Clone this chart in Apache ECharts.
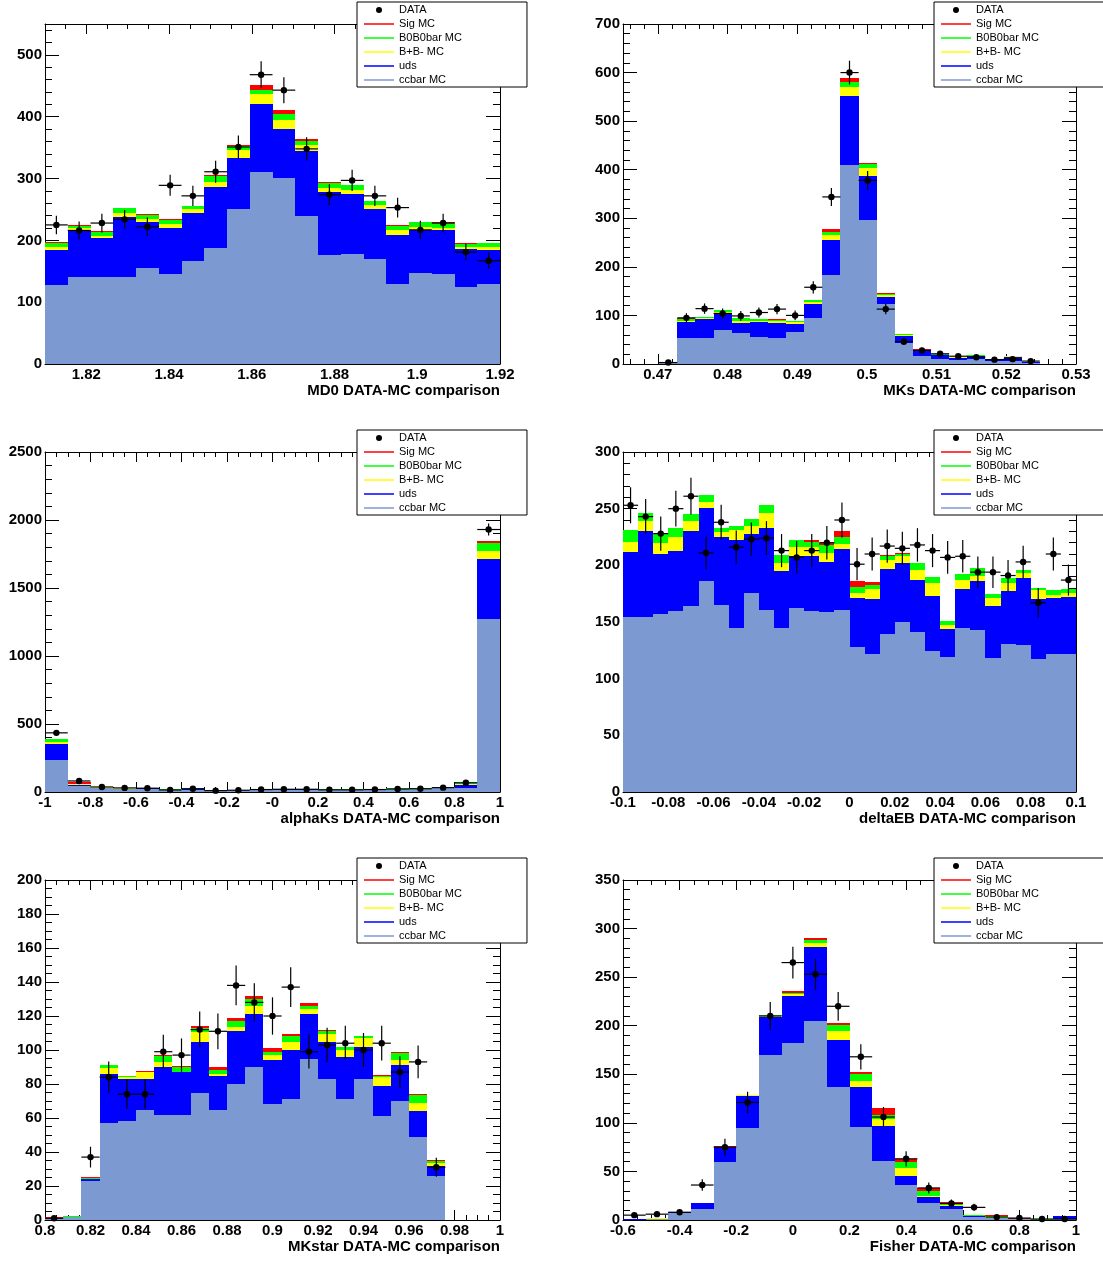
<!DOCTYPE html>
<html><head><meta charset="utf-8">
<script src="https://cdn.jsdelivr.net/npm/echarts@6/dist/echarts.min.js"></script>
<style>html,body{margin:0;padding:0;background:#fff}#c{width:1103px;height:1262px}</style>
</head><body><div id="c"></div><script>
// ---------------- DATA ----------------
// Stacked MC levels are the top of each band (cumulative), bottom to top:
// ccbar -> +uds -> +B+B- -> +B0B0bar -> +Sig

// MD0 : 20 bins on [1.81, 1.92]
const md0_range = [1.81, 1.92];
const md0_xLabels = ['1.82','1.84','1.86','1.88','1.9','1.92'];
const md0_yLabels = [0,100,200,300,400,500];
const md0_ccbar = [127,141,140,141,155,145,167,187,250,310,301,240,177,178,170,129,148,146,124,130];
const md0_uds   = [185,216,204,238,229,220,244,286,334,420,380,345,279,275,250,209,217,216,186,185];
const md0_bpbm  = [190,220,207,245,234,226,250,295,346,436,394,355,285,282,257,216,221,220,190,189];
const md0_b0b0  = [196,224,214,252,241,233,255,304,352,444,404,361,293,289,263,224,229,228,194,195];
const md0_sig   = [197,225,215,253,242,234,256,305,355,451,411,364,294,290,264,225,230,229,195,196];
const md0_data  = [225,216,228,234,222,289,272,311,351,468,443,348,274,297,272,253,217,228,181,167];
const md0_err   = [15.0,14.7,15.1,15.3,14.9,17.0,16.5,17.6,18.7,21.6,21.0,18.7,16.6,17.2,16.5,15.9,14.7,15.1,13.5,12.9];

// MKs : 25 bins on [0.465, 0.53]
const mks_range = [0.465, 0.53];
const mks_xLabels = ['0.47','0.48','0.49','0.5','0.51','0.52','0.53'];
const mks_yLabels = [0,100,200,300,400,500,600,700];
const mks_ccbar = [0,0,3,54,53,70,63,56,54,65,94,183,409,297,123,43,17,10,8,10,6,7,3,1,0];
const mks_uds   = [0,0,4,87,92,105,85,86,84,83,124,256,551,387,137,58,27,19,12,16,10,15,4,1,0];
const mks_bpbm  = [0,0,4,89,94,108,89,89,88,86,127,265,571,404,142,59,28,19.5,14,17,10.5,15.5,4.5,1,0];
const mks_b0b0  = [0,0,5,93,96,112,94,93,91,89,131,271,581,411,144,61,29,21,15,18,11,16,5,1,0];
const mks_sig   = [0,0,5,94,96,112,94,93,92,89,131,277,588,414,146,62,30,21,15,18,11,16,5,1,0];
const mks_data  = [null,null,3,95,114,104,99,106,113,100,158,344,600,378,113,46,28,21,16,14,9,10,6,null,null];
const mks_err   = [null,null,1.7,9.7,10.7,10.2,9.9,10.3,10.6,10.0,12.6,18.5,24.5,19.4,10.6,6.8,5.3,4.6,4.0,3.7,3.0,3.2,2.4,null,null];

// alphaKs : 20 bins on [-1, 1]
const ak_range = [-1, 1];
const ak_xLabels = ['-1','-0.8','-0.6','-0.4','-0.2','-0','0.2','0.4','0.6','0.8','1'];
const ak_yLabels = [0,500,1000,1500,2000,2500];
const ak_ccbar = [233,45,28,20,22,14,18,9,12,15,18,18,15,15,18,20,20,26,30,1270];
const ak_uds   = [355,52,33,25,27,17,22,10,13,17,21,21,17,17,21,23,23,30,54,1711];
const ak_bpbm  = [368,56,35,26,29,18,24,11,14,18,23,23,18,18,23,25,25,33,60,1775];
const ak_b0b0  = [387,62,37,28,31,19,26,12,15,19,24,24,19,19,24,27,27,36,66,1828];
const ak_sig   = [392,70,39,29,32,20,27,12,15,20,25,25,20,20,25,28,28,37,68,1846];
const ak_data  = [435,81,37,30,28,15,24,10,13,18,20,20,16,16,18,22,24,32,68,1930];
const ak_err   = [20.9,9.0,6.1,5.5,5.3,3.9,4.9,3.2,3.6,4.2,4.5,4.5,4.0,4.0,4.2,4.7,4.9,5.7,8.2,43.9];

// deltaEB : 30 bins on [-0.1, 0.1]
const deb_range = [-0.1, 0.1];
const deb_xLabels = ['-0.1','-0.08','-0.06','-0.04','-0.02','0','0.02','0.04','0.06','0.08','0.1'];
const deb_yLabels = [0,50,100,150,200,250,300];
const deb_ccbar = [154,154,157,160,164,186,165,145,176,161,145,162,160,159,161,128,122,139,150,141,124,119,145,143,118,131,130,117,122,122];
const deb_uds   = [212,230,210,213,230,251,225,222,228,233,195,208,208,203,214,171,170,197,202,187,173,144,179,186,164,177,189,170,171,172];
const deb_bpbm  = [221,239,220,225,239,256,229,231,235,246,202,216,216,211,219,176,179,205,208,196,184,147,187,191,171,184,193,178,174,176];
const deb_b0b0  = [231,246,228,233,245,262,233,235,241,253,209,222,221,218,225,181,183,208,210,202,190,151,192,198,175,189,196,180,178,179];
const deb_sig   = [231,246,228,233,245,262,233,235,241,253,209,222,222,220,230,186,185,209,211,202,190,151,192,198,175,189,196,180,178,179];
const deb_data  = [253,243,228,250,261,211,238,216,223,224,213,207,213,220,240,201,210,217,215,218,213,207,208,194,194,191,203,167,210,187];
const deb_err   = [15.9,15.6,15.1,15.8,16.2,14.5,15.4,14.7,14.9,15.0,14.6,14.4,14.6,14.8,15.5,14.2,14.5,14.7,14.7,14.8,14.6,14.4,14.4,13.9,13.9,13.8,14.2,12.9,14.5,13.7];

// MKstar : 25 bins on [0.8, 1.0]
const mkst_range = [0.8, 1.0];
const mkst_xLabels = ['0.8','0.82','0.84','0.86','0.88','0.9','0.92','0.94','0.96','0.98','1'];
const mkst_yLabels = [0,20,40,60,80,100,120,140,160,180,200];
const mkst_ccbar = [1,1.5,23,57,58,65,62,62,75,65,80,90,68,71,95,83,71,83,61,70,49,26,0,0,0];
const mkst_uds   = [1.2,2,24,86,83,83,90,87,105,85,111,121,94,100,121,105,96,102,79,91,64,32,0,0,0];
const mkst_bpbm  = [1.3,2,24.4,89.5,84,87,93,87.3,110.5,86,113.5,125.7,97,105,124.3,109.3,100,107,84,94.4,68.8,33.4,0,0,0];
const mkst_b0b0  = [1.4,2.1,25,91,84.6,87.3,96.6,89.9,113,88.5,117,130,99,108,126,111,101.7,108,85,98.1,73.5,34.8,0,0,0];
const mkst_sig   = [1.5,2.2,25.2,91.3,85,87.5,97,90.7,114,90,118.8,132,101.3,109.7,127.4,111.7,102,108.4,85.5,98.7,73.9,35.2,0,0,0];
const mkst_data  = [1,null,37,84,74,74,99,97,112,111,138,128,120,137,99,103,104,100,104,87,93,31,null,null,null];
const mkst_err   = [1,null,6.1,9.2,8.6,8.6,9.9,9.8,10.6,10.5,11.7,11.3,11.0,11.7,9.9,10.1,10.2,10.0,10.2,9.3,9.6,5.6,null,null,null];

// Fisher : 20 bins on [-0.6, 1.0]
const fis_range = [-0.6, 1.0];
const fis_xLabels = ['-0.6','-0.4','-0.2','0','0.2','0.4','0.6','0.8','1'];
const fis_yLabels = [0,50,100,150,200,250,300,350];
const fis_ccbar = [0.5,1,7.5,11.7,60,95,170,182,205,137,96,61,36.5,17,11,3,1.7,0.8,0.3,1];
const fis_uds   = [0.8,1.5,8.5,17.2,75,128,208.5,230.6,280.8,184.8,137.3,97,45.4,24.1,14.5,4.1,2.4,1,0.4,3.8];
const fis_bpbm  = [0.9,1.6,8.6,17.3,75.3,128.3,209.6,232.6,285.6,195,143.5,104,53.3,24.8,15.8,4.4,3.4,1.2,0.5,3.9];
const fis_b0b0  = [1,1.7,8.7,17.4,75.5,128.5,210.6,234,288.4,200.3,150.4,108.4,60.2,30,16.9,4.8,4.1,1.4,0.6,4];
const fis_sig   = [1,1.7,8.7,17.5,75.7,128.7,211,235.4,290,203,152.8,115.6,63.3,32.7,18.9,5.5,5.5,1.7,0.7,4];
const fis_data  = [5,6,8,36,75,121,210,265,253,220,168,106,63,33,17,13,3,2,1,1];
const fis_err   = [2.2,2.4,2.8,6.0,8.7,11.0,14.5,16.3,15.9,14.8,13.0,10.3,7.9,5.7,4.1,3.6,1.7,1.4,1.0,1.0];

// ---------------- STYLE ----------------
const FONT = '"Liberation Sans", Arial, Helvetica, sans-serif';
const MC_NAMES  = ['Sig MC','B0B0bar MC','B+B- MC','uds','ccbar MC'];
const MC_COLORS = ['#ff0000','#00ff00','#ffff00','#0000ff','#7d99d1'];
const LINE_ICON = 'path://M0,0H30V1.5H0Z';

const panels = [
  {title:'MD0 DATA-MC comparison',    range:md0_range,  xLabels:md0_xLabels,  yLabels:md0_yLabels,  yMax:550,  xMinor:0.005, yMinor:20,
   levels:[md0_sig,md0_b0b0,md0_bpbm,md0_uds,md0_ccbar], data:md0_data, err:md0_err, box:[45,24,455,340], legend:[357,2]},
  {title:'MKs DATA-MC comparison',    range:mks_range,  xLabels:mks_xLabels,  yLabels:mks_yLabels,  yMax:700,  xMinor:0.002, yMinor:20,
   levels:[mks_sig,mks_b0b0,mks_bpbm,mks_uds,mks_ccbar], data:mks_data, err:mks_err, box:[623,24,453,340], legend:[934,2]},
  {title:'alphaKs DATA-MC comparison',range:ak_range,   xLabels:ak_xLabels,   yLabels:ak_yLabels,   yMax:2500, xMinor:0.05,  yMinor:100,
   levels:[ak_sig,ak_b0b0,ak_bpbm,ak_uds,ak_ccbar], data:ak_data, err:ak_err, box:[45,452,455,340], legend:[357,430]},
  {title:'deltaEB DATA-MC comparison',range:deb_range,  xLabels:deb_xLabels,  yLabels:deb_yLabels,  yMax:300,  xMinor:0.005, yMinor:10,
   levels:[deb_sig,deb_b0b0,deb_bpbm,deb_uds,deb_ccbar], data:deb_data, err:deb_err, box:[623,452,453,340], legend:[934,430]},
  {title:'MKstar DATA-MC comparison', range:mkst_range, xLabels:mkst_xLabels, yLabels:mkst_yLabels, yMax:200,  xMinor:0.005, yMinor:5,
   levels:[mkst_sig,mkst_b0b0,mkst_bpbm,mkst_uds,mkst_ccbar], data:mkst_data, err:mkst_err, box:[45,880,455,340], legend:[357,858]},
  {title:'Fisher DATA-MC comparison', range:fis_range,  xLabels:fis_xLabels,  yLabels:fis_yLabels,  yMax:350,  xMinor:0.05,  yMinor:10,
   levels:[fis_sig,fis_b0b0,fis_bpbm,fis_uds,fis_ccbar], data:fis_data, err:fis_err, box:[623,880,453,340], legend:[934,858]}
];

function minorValues(lo, hi, step) {
  const out = [];
  const k0 = Math.ceil(lo / step - 1e-6), k1 = Math.floor(hi / step + 1e-6);
  for (let k = k0; k <= k1; k++) out.push(+(k * step).toFixed(6));
  return out;
}

const tickLine = {color:'#000', width:1};
const labelStyle = {color:'#000', fontSize:15, fontWeight:'bold', fontFamily:FONT};

const grids = [], xAxes = [], yAxes = [], series = [], legends = [];

panels.forEach((p, g) => {
  grids.push({left:p.box[0], top:p.box[1], width:p.box[2], height:p.box[3], containLabel:false, outerBoundsMode:'none'});
  const xMaj = p.xLabels.map(s => parseFloat(s));
  const xMin = minorValues(p.range[0], p.range[1], p.xMinor);
  const yMaj = p.yLabels.slice();
  const yMin = minorValues(0, p.yMax, p.yMinor);
  const xb = {type:'value', gridIndex:g, min:p.range[0], max:p.range[1], splitLine:{show:false}, z:1};
  const yb = {type:'value', gridIndex:g, min:0, max:p.yMax, splitLine:{show:false}, z:1};
  const xfmt = v => { for (let i = 0; i < xMaj.length; i++) if (Math.abs(xMaj[i] - v) < 1e-7) return p.xLabels[i]; return ''; };

  xAxes.push(Object.assign({}, xb, {position:'bottom',
    axisLine:{show:true, onZero:false, lineStyle:tickLine},
    axisTick:{show:true, inside:true, length:10, customValues:xMaj, lineStyle:tickLine},
    axisLabel:Object.assign({show:true, customValues:xMaj, formatter:xfmt, margin:3}, labelStyle),
    name:p.title, nameLocation:'end', nameGap:0, nameMoveOverlap:false,
    nameTextStyle:{color:'#000', fontSize:15, fontWeight:'bold', fontFamily:FONT, align:'right', verticalAlign:'top', padding:[19,0,0,0]}}));
  xAxes.push(Object.assign({}, xb, {position:'bottom', axisLine:{show:false, onZero:false},
    axisTick:{show:true, inside:true, length:5, customValues:xMin, lineStyle:tickLine}, axisLabel:{show:false}}));
  xAxes.push(Object.assign({}, xb, {position:'top', axisLine:{show:true, onZero:false, lineStyle:tickLine},
    axisTick:{show:true, inside:true, length:10, customValues:xMaj, lineStyle:tickLine}, axisLabel:{show:false}}));
  xAxes.push(Object.assign({}, xb, {position:'top', axisLine:{show:false, onZero:false},
    axisTick:{show:true, inside:true, length:5, customValues:xMin, lineStyle:tickLine}, axisLabel:{show:false}}));

  yAxes.push(Object.assign({}, yb, {position:'left',
    axisLine:{show:true, onZero:false, lineStyle:tickLine},
    axisTick:{show:true, inside:true, length:14, customValues:yMaj, lineStyle:tickLine},
    axisLabel:Object.assign({show:true, customValues:yMaj, formatter:v => String(Math.round(v)), margin:3}, labelStyle)}));
  yAxes.push(Object.assign({}, yb, {position:'left', axisLine:{show:false, onZero:false},
    axisTick:{show:true, inside:true, length:7, customValues:yMin, lineStyle:tickLine}, axisLabel:{show:false}}));
  yAxes.push(Object.assign({}, yb, {position:'right', axisLine:{show:true, onZero:false, lineStyle:tickLine},
    axisTick:{show:true, inside:true, length:14, customValues:yMaj, lineStyle:tickLine}, axisLabel:{show:false}}));
  yAxes.push(Object.assign({}, yb, {position:'right', axisLine:{show:false, onZero:false},
    axisTick:{show:true, inside:true, length:7, customValues:yMin, lineStyle:tickLine}, axisLabel:{show:false}}));

  const n = p.data.length;
  const w = (p.range[1] - p.range[0]) / n;
  const edge = i => p.range[0] + i * w;

  // stacked histogram: cumulative levels drawn from largest (Sig on top) down to ccbar
  p.levels.forEach((lv, k) => {
    const items = lv.map((top, i) => [edge(i), edge(i + 1), top]);
    series.push({
      type:'custom', name:MC_NAMES[k], xAxisIndex:g*4, yAxisIndex:g*4, z:2 + k * 0.01,
      itemStyle:{color:MC_COLORS[k]}, encode:{x:[0,1], y:[2]}, data:items, clip:true,
      renderItem:(params, api) => {
        const top = api.value(2);
        if (!(top > 0)) return null;
        const a = api.coord([api.value(0), top]);
        const b = api.coord([api.value(1), 0]);
        const x0 = Math.round(a[0]), x1 = Math.round(b[0]);
        const y0 = Math.round(a[1]), y1 = Math.round(b[1]);
        return {type:'rect', shape:{x:x0, y:y0, width:x1 - x0, height:Math.max(y1 - y0, 0.5)},
                style:{fill:MC_COLORS[k]}};
      }
    });
  });

  // data points with error bars
  const dItems = [];
  p.data.forEach((v, i) => { if (v !== null) dItems.push([edge(i) + w / 2, v, edge(i), edge(i + 1), p.err[i]]); });
  series.push({
    type:'custom', name:'DATA', xAxisIndex:g*4, yAxisIndex:g*4, z:5,
    itemStyle:{color:'#000'}, encode:{x:[0,2,3], y:[1]}, data:dItems,
    renderItem:(params, api) => {
      const xc = api.value(0), y = api.value(1), e = api.value(4);
      const c = api.coord([xc, y]);
      const l = api.coord([api.value(2), y]);
      const h = api.coord([api.value(3), y]);
      const t = api.coord([xc, y + e]);
      const b = api.coord([xc, Math.max(y - e, 0)]);
      return {type:'group', children:[
        {type:'line', shape:{x1:l[0], y1:c[1], x2:h[0], y2:c[1]}, style:{stroke:'#000', lineWidth:1.2}},
        {type:'line', shape:{x1:c[0], y1:t[1], x2:c[0], y2:b[1]}, style:{stroke:'#000', lineWidth:1.2}},
        {type:'circle', shape:{cx:c[0], cy:c[1], r:3.2}, style:{fill:'#000'}}
      ]};
    }
  });

  legends.push({
    left:p.legend[0], top:p.legend[1], orient:'vertical', selectedMode:false,
    padding:[1,65,0,7], itemGap:0, itemWidth:30, itemHeight:6,
    backgroundColor:'#fff', borderColor:'#000', borderWidth:1, borderRadius:0,
    textStyle:{fontFamily:FONT, fontSize:11, color:'#000', lineHeight:14},
    data:[{name:'DATA', icon:'circle', itemStyle:{color:'#000'}}].concat(
      MC_NAMES.map((nm, i) => ({name:nm, icon:LINE_ICON, itemStyle:{color:MC_COLORS[i]}})))
  });
});

const chart = echarts.init(document.getElementById('c'), null, {renderer:'canvas'});
chart.setOption({
  animation:false,
  backgroundColor:'#fff',
  grid:grids, xAxis:xAxes, yAxis:yAxes, series:series, legend:legends
});
</script></body></html>
